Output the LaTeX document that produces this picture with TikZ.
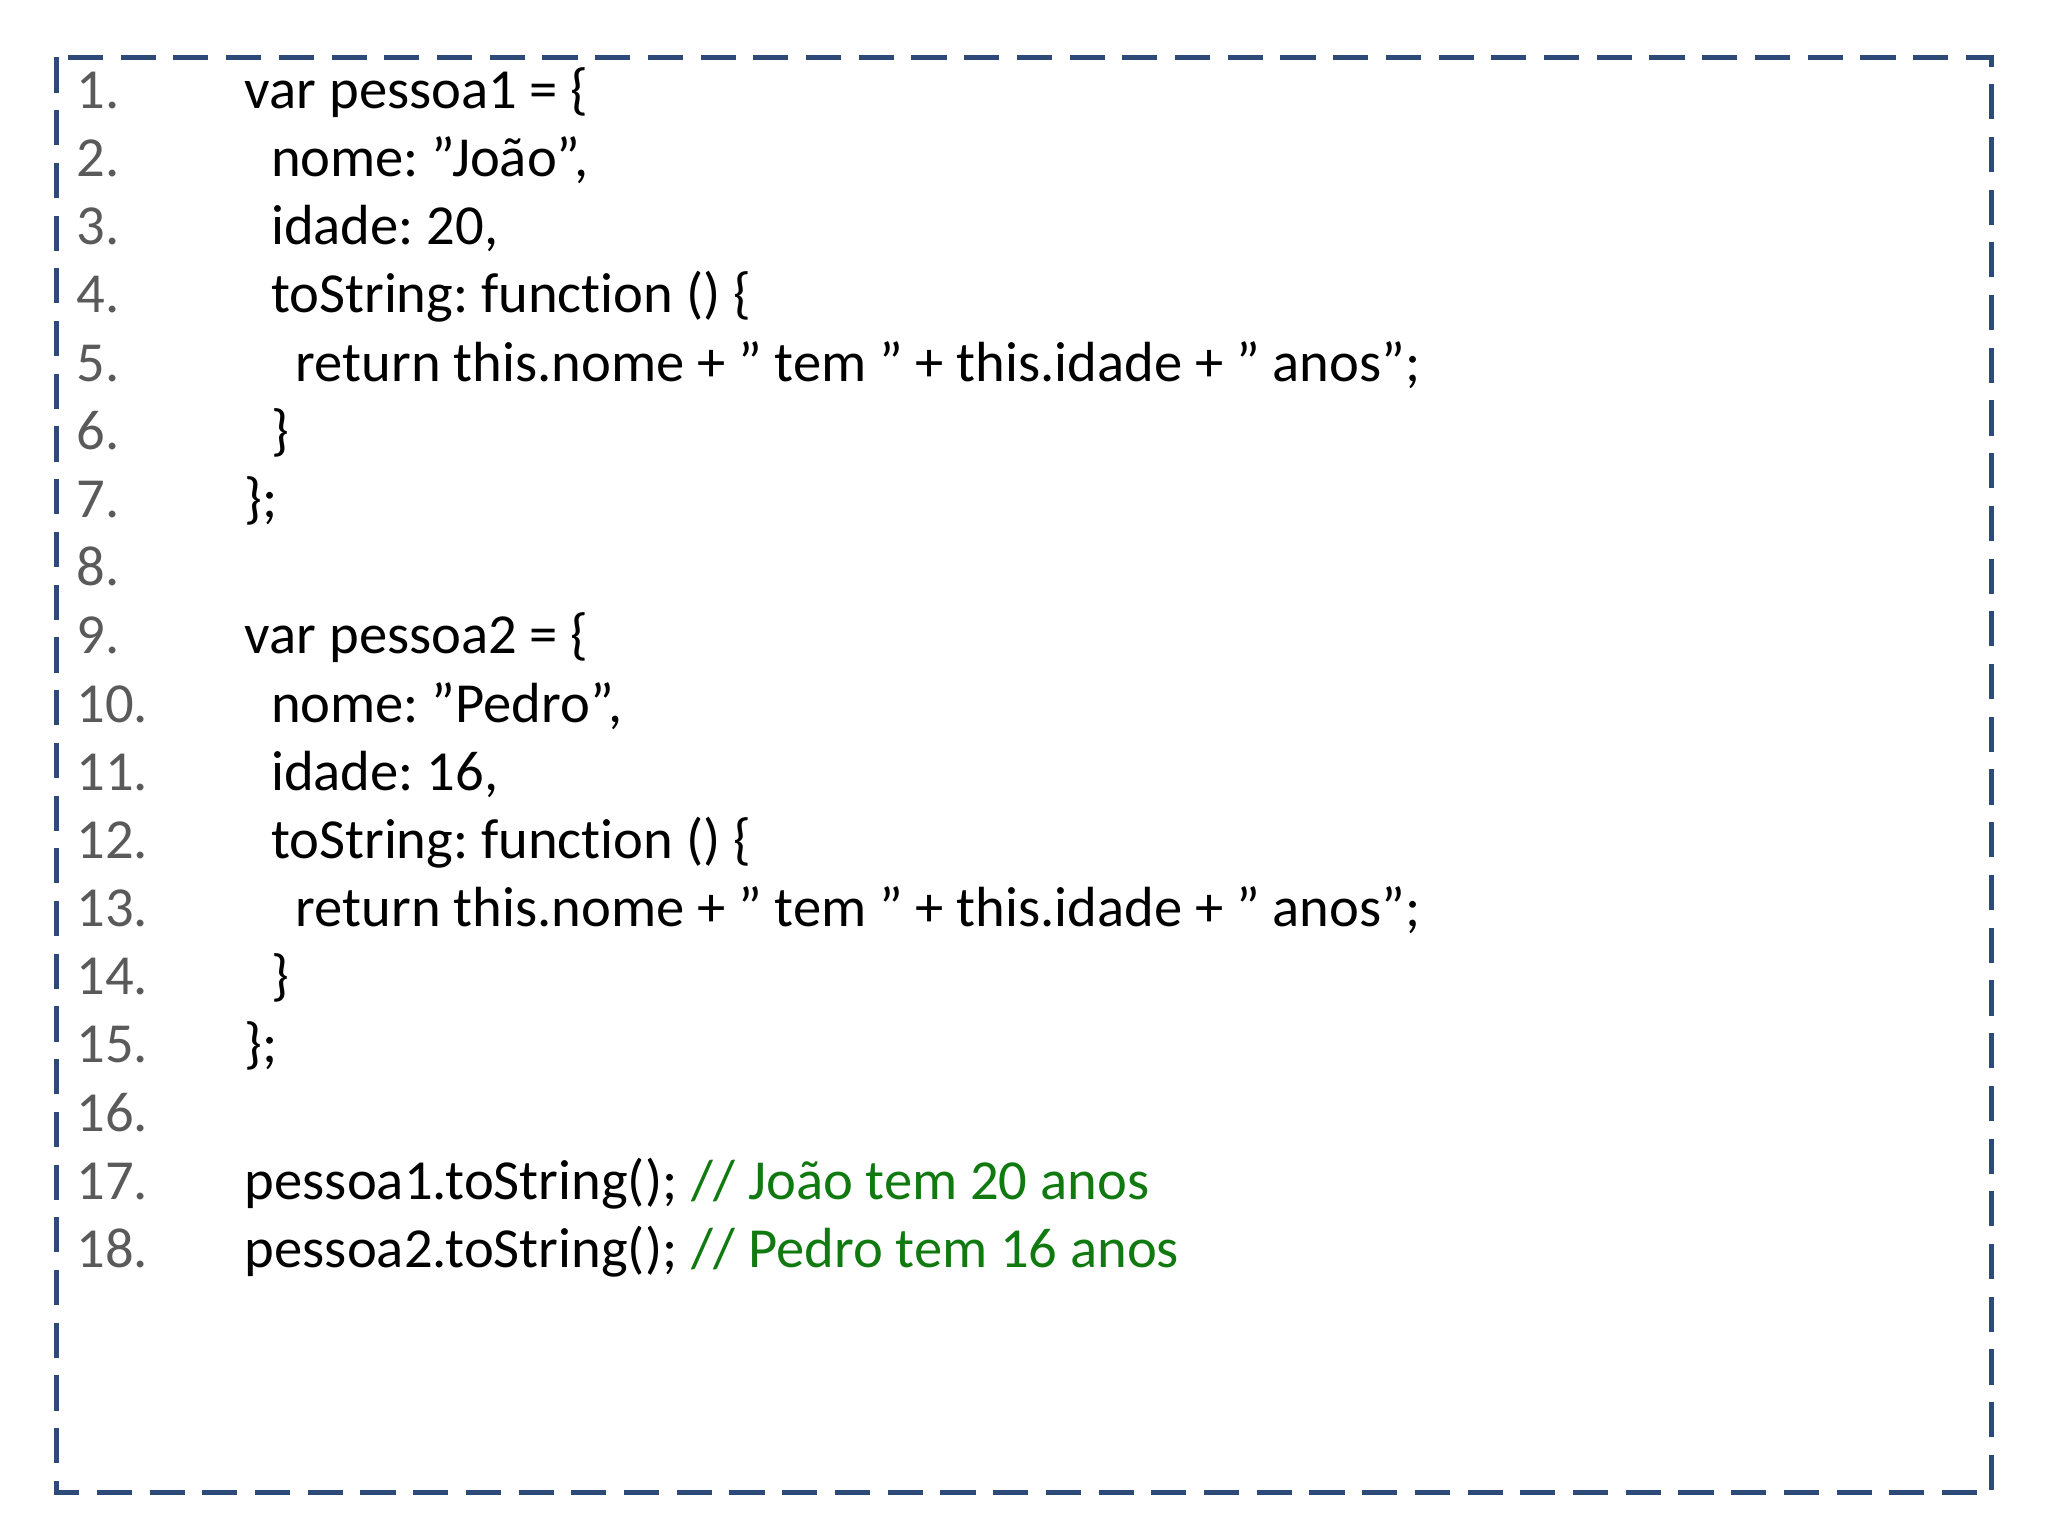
\documentclass[tikz,border=0pt]{standalone}
\usepackage{fontspec}
\setmainfont{Carlito}[Ligatures=ResetAll, RawFeature={-liga;-clig}]
\frenchspacing
\newcommand{\dq}{\char"22\relax}
\definecolor{frameblue}{HTML}{2E4A78}
\definecolor{numgray}{HTML}{5A5A5A}
\definecolor{cmtgreen}{HTML}{107A10}
\begin{document}
\begin{tikzpicture}[
                x=0.01306cm, y=-0.01306cm,
                every node/.style={anchor=base west, inner sep=0pt, font=\fontsize{16.1}{19}\selectfont},
                num/.style={text=numgray},
                code/.style={text=black},
                cmt/.style={text=cmtgreen}
            ]
                \useasboundingbox (0,0) rectangle (1568,1176);
                % moldura
                \draw[frameblue, line width=1.4pt, dash pattern=on 10pt off 5pt] (43,44) rectangle (1525,1143);
                % numeros de linha
                \foreach \i in {1,...,18}
                    \node[num] (n\i) at (58,{83+52.2*(\i-1)}) {\i.};
                % codigo
                \node[code] (l1) at (187,83) {var pessoa1 = \{};
                \node[code] (l2) at (207,135.2) {nome: \dq João\dq,};
                \node[code] (l3) at (207,187.4) {idade: 20,};
                \node[code] (l4) at (207,239.6) {toString: function () \{};
                \node[code] (l5) at (226,291.8) {return this.nome + \dq{} tem \dq{} + this.idade + \dq{} anos\dq;};
                \node[code] (l6) at (207,344) {\}};
                \node[code] (l7) at (187,396.2) {\};};
                \node[code] (l9) at (187,500.6) {var pessoa2 = \{};
                \node[code] (l10) at (207,552.8) {nome: \dq Pedro\dq,};
                \node[code] (l11) at (207,605) {idade: 16,};
                \node[code] (l12) at (207,657.2) {toString: function () \{};
                \node[code] (l13) at (226,709.4) {return this.nome + \dq{} tem \dq{} + this.idade + \dq{} anos\dq;};
                \node[code] (l14) at (207,761.6) {\}};
                \node[code] (l15) at (187,813.8) {\};};
                \node[code] (l17) at (187,918.2) {pessoa1.toString();};
                \node[cmt] (c17) at (l17.base east) {~// João tem 20 anos};
                \node[code] (l18) at (187,970.4) {pessoa2.toString();};
                \node[cmt] (c18) at (l18.base east) {~// Pedro tem 16 anos};
            \end{tikzpicture}
\end{document}
